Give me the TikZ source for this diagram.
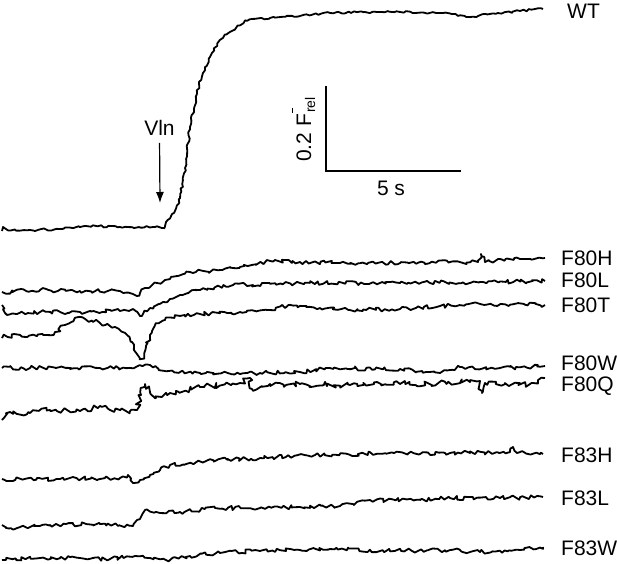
\documentclass[tikz,border=0pt]{standalone}
\usepackage{fontspec}
\setmainfont{Liberation Sans}
\usetikzlibrary{positioning,arrows.meta,decorations.pathmorphing}
\tikzset{
  trace/.style = {line width=1.8pt, line join=round, decorate,
                  decoration={random steps, segment length=3pt, amplitude=2.1pt}},
  quiet/.style = {trace, decoration={random steps, segment length=3pt, amplitude=1.2pt}},
  noisy/.style = {trace, decoration={random steps, segment length=3pt, amplitude=2.9pt}},
  tag/.style   = {anchor=west, inner sep=0pt},
  scalebar/.style = {line width=1.3pt},
  pointer/.style  = {line width=1.2pt, -{Latex[length=11pt,width=8pt]}}
}

\begin{document}
\begin{tikzpicture}
  [
    x = 1pt, y = -1pt,
    every node/.style = {font=\fontsize{21}{25}\selectfont}
  ]
\useasboundingbox (0,0) rectangle (617,563);
\pgfmathsetseed{4711}

% wild type
\draw[quiet] plot[smooth, tension=0.4] coordinates {
  (2,231) (30,230) (60,229) (85,226) (120,227) (155,227) (162,228) (166,222)
  (172,214) (176,208) (180,198) (185,168) (190,127) (197,93) (203,73) (212,53)
  (220,40) (230,32) (247,21) (270,18) (300,16) (330,13) (400,12) (440,13)
  (470,17) (490,14) (520,11) (543,9)};
\node[tag] (wt) at (567,11.5) {WT};

% F80 mutants
\draw[trace] (2,292) -- (40,290) -- (80,291) -- (120,291) -- (133,294) -- (137,296)
  -- (145,288) -- (165,280) -- (190,272) -- (220,270) -- (240,267) -- (275,260)
  -- (300,262) -- (340,263) -- (400,263) -- (450,262) -- (478,262) -- (481,254)
  -- (485,262) -- (520,259) -- (545,258);
\node[tag] (f80h) at (561,258.5) {F80H};

\draw[trace] (2,305) -- (5,313) -- (40,312) -- (80,312) -- (120,311) -- (133,309)
  -- (140,316) -- (150,308) -- (163,302) -- (180,295) -- (200,290) -- (233,285)
  -- (300,283) -- (400,283) -- (480,282) -- (545,281);
\node[tag] (f80l) at (561,280) {F80L};

\draw[trace] plot[smooth, tension=0.3] coordinates {
  (2,338) (20,335) (48,335) (55,332) (65,325) (75,318) (85,319) (100,323)
  (115,327) (125,333) (132,342) (137,354) (140,359) (144,353) (150,335)
  (155,326) (165,320) (180,316) (200,314) (240,312) (270,310) (290,305)
  (320,308) (350,310) (400,309) (440,306) (480,304) (545,305)};
\node[tag] (f80t) at (561,305) {F80T};

\draw[trace] (2,368) -- (30,368) -- (60,367) -- (100,368) -- (130,368) -- (150,365)
  -- (165,371) -- (200,373) -- (240,374) -- (260,373) -- (300,372) -- (330,368)
  -- (400,369) -- (440,373) -- (460,367) -- (500,368) -- (545,366);
\node[tag] (f80w) at (561,363) {F80W};

\draw[noisy] (2,420) -- (10,412) -- (30,413) -- (50,410) -- (80,411) -- (100,406)
  -- (110,410) -- (130,411) -- (137,410) -- (141,395) -- (145,384) -- (150,392)
  -- (156,398) -- (170,393) -- (200,387) -- (240,383) -- (250,378) -- (252,389)
  -- (270,384) -- (300,384) -- (350,385) -- (400,384) -- (470,382) -- (480,381)
  -- (482,393) -- (485,383) -- (530,384) -- (545,378);
\node[tag] (f80q) at (561,386.5) {F80Q};

% F83 mutants
\draw[trace] (2,479) -- (60,479) -- (120,478) -- (128,475) -- (133,483) -- (140,480)
  -- (150,475) -- (160,470) -- (170,465) -- (217,460) -- (260,458) -- (315,455)
  -- (394,453) -- (450,453) -- (510,452) -- (513,447) -- (517,453) -- (543,454);
\node[tag] (f83h) at (561,455) {F83H};

\draw[trace] (2,525) -- (6,528) -- (50,525) -- (100,524) -- (133,526) -- (137,520)
  -- (145,510) -- (160,513) -- (180,512) -- (215,508) -- (260,508) -- (300,507)
  -- (340,506) -- (370,500) -- (420,500) -- (450,498) -- (500,498) -- (543,497);
\node[tag] (f83l) at (561,498.5) {F83L};

\draw[trace] (2,560) -- (40,558) -- (80,558) -- (110,559) -- (135,556) -- (150,558)
  -- (170,560) -- (190,556) -- (220,553) -- (260,551) -- (300,550) -- (330,549)
  -- (380,551) -- (450,550) -- (480,552) -- (520,550) -- (543,547);
\node[tag] (f83w) at (561,548.5) {F83W};

% stimulus
\coordinate (vlntip) at (160,203);
\node[inner sep=0pt] (vln) at (159.5,128) {Vln};
\draw[pointer, shorten <=7pt] (vln.south) -- (vlntip);

% scale bar
\coordinate (sbcorner) at (326,171);
\coordinate (sbtop) at (326,86);
\coordinate (sbright) at (461,171);
\draw[scalebar] (sbtop) -- (sbcorner) -- (sbright);
\node[inner sep=0pt] (sec) at (391,188) {5 s};
\node[rotate=90, anchor=base west, inner sep=0pt] (amp) at (311,162)
  {0.2 F\kern1pt\rlap{\raisebox{18pt}{\rule{5pt}{1.3pt}}}{\fontsize{14}{14}\selectfont\raisebox{-4pt}{rel}}};
\end{tikzpicture}
\end{document}
